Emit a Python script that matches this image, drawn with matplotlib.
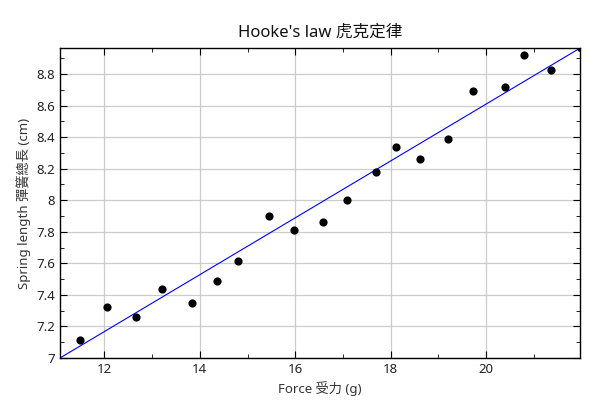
import matplotlib
matplotlib.use("Agg")
import matplotlib.pyplot as plt
from matplotlib.ticker import MultipleLocator, FuncFormatter

plt.rcParams['font.family'] = ['Noto Sans', 'Noto Sans CJK TC', 'DejaVu Sans']

force = [11.48, 12.06, 12.67, 13.20, 13.83, 14.37, 14.79, 15.44, 15.97, 16.58,
         17.08, 17.70, 18.11, 18.61, 19.20, 19.73, 20.39, 20.80, 21.36]
length = [7.115, 7.326, 7.261, 7.439, 7.350, 7.490, 7.617, 7.897, 7.814, 7.861,
          7.999, 8.177, 8.336, 8.260, 8.387, 8.692, 8.715, 8.921, 8.826]
# least-squares fit line end points
fit_x = [11.07, 21.97]
fit_y = [7.0, 8.965]

fig = plt.figure(figsize=(6, 4), dpi=100)
ax = fig.add_axes([0.1, 0.105, 0.867, 0.775])

ax.plot(fit_x, fit_y, color="#0000ff", lw=0.8, zorder=2)
ax.scatter(force, length, s=24, color="black", zorder=3)
ax.plot(fit_x[1:], fit_y[1:], "o", color="black", ms=4, zorder=3)

ax.set_xlim(fit_x[0], fit_x[1])
ax.set_ylim(fit_y[0], fit_y[1])
ax.xaxis.set_major_locator(MultipleLocator(2))
ax.xaxis.set_minor_locator(MultipleLocator(1))
ax.yaxis.set_major_locator(MultipleLocator(0.2))
ax.yaxis.set_minor_locator(MultipleLocator(0.1))
ax.yaxis.set_major_formatter(FuncFormatter(lambda v, p: f"{v:g}"))
ax.xaxis.set_major_formatter(FuncFormatter(lambda v, p: f"{v:g}"))

ax.tick_params(which="both", direction="in", top=True, right=True, colors="black",
               labelcolor="#222222", labelsize=9.5)
ax.tick_params(which="major", length=5)
ax.tick_params(which="minor", length=3)
ax.grid(True, which="major", color="#cccccc", lw=0.9)
ax.set_axisbelow(True)
for s in ax.spines.values():
    s.set_linewidth(1.0)

ax.set_title("Hooke's law 虎克定律", fontsize=12, color="#111111", pad=8)
ax.set_xlabel("Force 受力 (g)", fontsize=9.5, color="#333333", labelpad=4)
ax.set_ylabel("Spring length 彈簧總長 (cm)", fontsize=9.5, color="#333333", labelpad=4)

fig.savefig("out.png", dpi=100)
